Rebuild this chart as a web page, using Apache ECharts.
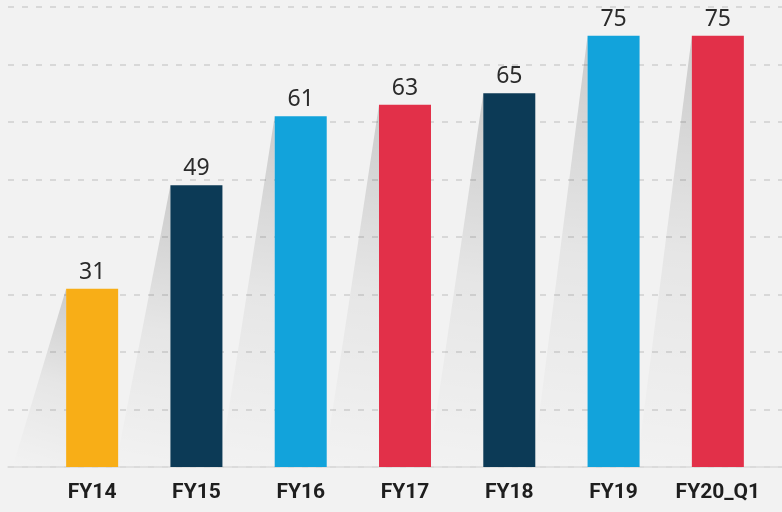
<!DOCTYPE html>
<html>
<head>
<meta charset="utf-8">
<script src="https://cdn.jsdelivr.net/npm/echarts@6/dist/echarts.min.js"></script>
<style>
html,body{margin:0;padding:0;background:#f2f2f2;}
#chart{width:782px;height:512px;}
</style>
</head>
<body>
<div id="chart"></div>
<script>
var categories = ['FY14','FY15','FY16','FY17','FY18','FY19','FY20_Q1'];
var values = [31, 49, 61, 63, 65, 75, 75];
var barColors = ['#F8AE17','#0C3A56','#12A3DB','#E23049','#0C3A56','#12A3DB','#E23049'];
var yMin = 0, yMax = 80, yInterval = 10;

var chart = echarts.init(document.getElementById('chart'));
var option = {
  backgroundColor: '#f2f2f2',
  animation: false,
  grid: [
    {left: 40, right: 12, top: 7, bottom: 45},
    {left: 8, right: 0, top: 7, bottom: 45}
  ],
  xAxis: [
    {type: 'category', gridIndex: 0, data: categories,
     axisLine: {show: false}, axisTick: {show: false},
     axisLabel: {interval: 0, margin: 15, fontFamily: 'Roboto', fontWeight: 'bold', fontSize: 21, color: '#1e1e1e'}},
    {type: 'value', gridIndex: 1, min: 0, max: 1, show: true,
     axisLine: {show: true, onZero: false, lineStyle: {color: '#dcdcdc', width: 1.5}},
     axisTick: {show: false}, axisLabel: {show: false}, splitLine: {show: false}}
  ],
  yAxis: [
    {type: 'value', gridIndex: 0, min: yMin, max: yMax, interval: yInterval, show: false, splitLine: {show: false}},
    {type: 'value', gridIndex: 1, min: yMin, max: yMax, interval: yInterval,
     axisLine: {show: false}, axisTick: {show: false}, axisLabel: {show: false},
     splitLine: {show: true, lineStyle: {color: '#cfcfcf', type: [6, 8], width: 1.5}}}
  ],
  series: [
    {
      type: 'custom', xAxisIndex: 0, yAxisIndex: 0, z: 1,
      data: values.map(function(v, i){ return [i, v]; }),
      renderItem: function(params, api){
        var top = api.coord([api.value(0), api.value(1)]);
        var base = api.coord([api.value(0), 0]);
        var x0 = top[0] - 26;
        var h = base[1] - top[1];
        var dx = Math.min(h * 0.3, 55);
        return {
          type: 'polygon',
          shape: {points: [[x0, top[1]], [x0, base[1]], [x0 - dx, base[1]]]},
          style: {
            fill: new echarts.graphic.LinearGradient(1, 0, 0, 1, [
              {offset: 0, color: 'rgba(0,0,0,0.16)'},
              {offset: 0.5, color: 'rgba(0,0,0,0.05)'},
              {offset: 1, color: 'rgba(0,0,0,0)'}
            ])
          }
        };
      }
    },
    {
      type: 'bar', xAxisIndex: 0, yAxisIndex: 0, z: 3,
      barWidth: 52,
      data: values.map(function(v, i){ return {value: v, itemStyle: {color: barColors[i]}}; }),
      label: {show: true, position: 'top', distance: 5, fontFamily: 'Noto Sans', fontSize: 23, color: '#2b2b2b'}
    }
  ]
};
chart.setOption(option);
</script>
</body>
</html>
